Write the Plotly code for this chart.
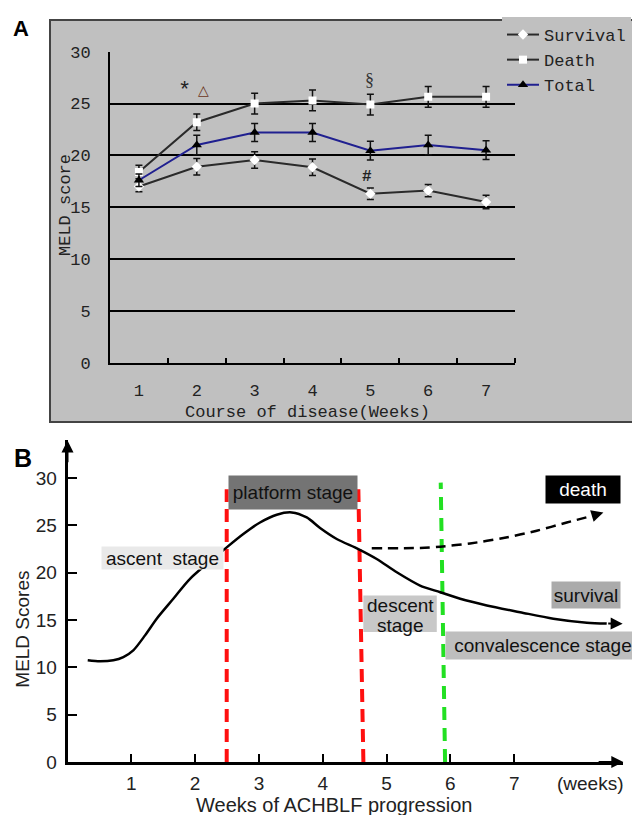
import plotly.graph_objects as go

# ---------------- Panel A data ----------------
weeks = [1, 2, 3, 4, 5, 6, 7]
week_labels = ["1", "2", "3", "4", "5", "6", "7"]
survival = [17.0, 18.9, 19.55, 18.85, 16.3, 16.6, 15.5]
survival_err = [0.5, 0.8, 0.8, 0.8, 0.55, 0.6, 0.65]
death = [18.4, 23.2, 25.0, 25.3, 24.9, 25.65, 25.65]
death_err = [0.65, 0.8, 1.0, 1.0, 1.0, 1.0, 1.0]
total = [17.6, 21.0, 22.2, 22.2, 20.45, 21.0, 20.5]
total_err = [0.6, 0.95, 0.87, 0.87, 0.9, 0.95, 0.9]
a_yticks = [0, 5, 10, 15, 20, 25, 30]
a_tick_bounds = [1.5, 2.5, 3.5, 4.5, 5.5, 6.5, 7.5]

# ---------------- Panel B data ----------------
curve_x = [0.317, 0.509, 0.718, 0.875, 1.031, 1.215, 1.398, 1.658, 1.92, 2.495,
           2.755, 3.017, 3.279, 3.514, 3.749, 3.958, 4.219, 4.558, 4.846, 5.16,
           5.525, 5.841, 6.154, 6.571, 7.092, 7.614, 8.138, 8.45]
curve_y = [10.74, 10.63, 10.74, 11.08, 11.79, 13.37, 15.13, 17.23, 19.34, 22.66,
           24.07, 25.29, 26.11, 26.35, 25.82, 24.71, 23.55, 22.49, 21.44, 20.03,
           18.63, 17.93, 17.23, 16.53, 15.82, 15.13, 14.71, 14.62]
death_curve_x = [4.768, 5.526, 5.84, 6.309, 6.831, 7.354, 7.824, 8.2]
death_curve_y = [22.56, 22.6, 22.74, 23.08, 23.65, 24.42, 25.29, 25.95]
red_left_x, red_left_y = [2.495, 2.495], [0, 28.8]
red_right_x, red_right_y = [4.637, 4.558], [0, 28.8]
green_x, green_y = [5.917, 5.849], [0, 29.5]
b_xticks = [1, 2, 3, 4, 5, 6, 7]
b_yticks = [0, 5, 10, 15, 20, 25, 30]

W, H = 632, 815
MONO = "Liberation Mono, Courier New, monospace"
SANS = "Liberation Sans, Arial, sans-serif"

fig = go.Figure()

err = dict(type="data", color="#111", thickness=1.5, width=3.5)
fig.add_trace(go.Scatter(x=weeks, y=survival, name="Survival", mode="lines+markers",
                         line=dict(color="#2a2a2a", width=2),
                         marker=dict(symbol="diamond", size=8, color="white"),
                         error_y=dict(array=survival_err, **err), xaxis="x", yaxis="y"))
fig.add_trace(go.Scatter(x=weeks, y=death, name="Death", mode="lines+markers",
                         line=dict(color="#2a2a2a", width=2),
                         marker=dict(symbol="square", size=8, color="white"),
                         error_y=dict(array=death_err, **err), xaxis="x", yaxis="y"))
fig.add_trace(go.Scatter(x=weeks, y=total, name="Total", mode="lines+markers",
                         line=dict(color="#202090", width=2),
                         marker=dict(symbol="triangle-up", size=9, color="black"),
                         error_y=dict(array=total_err, **err), xaxis="x", yaxis="y"))

# Panel B traces
fig.add_trace(go.Scatter(x=red_left_x, y=red_left_y, mode="lines", showlegend=False,
                         line=dict(color="#ff1010", width=4, dash="13px,7px"),
                         xaxis="x2", yaxis="y2"))
fig.add_trace(go.Scatter(x=red_right_x, y=red_right_y, mode="lines", showlegend=False,
                         line=dict(color="#ff1010", width=4, dash="13px,7px"),
                         xaxis="x2", yaxis="y2"))
fig.add_trace(go.Scatter(x=green_x, y=green_y, mode="lines", showlegend=False,
                         line=dict(color="#22e022", width=4, dash="13px,8px"),
                         xaxis="x2", yaxis="y2"))
fig.add_trace(go.Scatter(x=curve_x, y=curve_y, mode="lines", showlegend=False,
                         line=dict(color="black", width=2.5, shape="spline", smoothing=0.8),
                         xaxis="x2", yaxis="y2"))
fig.add_trace(go.Scatter(x=death_curve_x, y=death_curve_y, mode="lines", showlegend=False,
                         line=dict(color="black", width=2.5, dash="10px,6px",
                                   shape="spline", smoothing=0.8),
                         xaxis="x2", yaxis="y2"))

C = dict(xanchor="center", yanchor="middle", showarrow=False)
ann = []
# Panel A labels
ann.append(dict(text="<b>A</b>", xref="paper", yref="paper", x=21 / W, y=1 - 28 / H,
                font=dict(family=SANS, size=22, color="black"), **C))
ann.append(dict(text="*", xref="x", yref="y", x=1.78, y=26.2,
                font=dict(family=MONO, size=22, color="#222"), **C))
ann.append(dict(text="△", xref="x", yref="y", x=2.11, y=26.3,
                font=dict(family="DejaVu Sans", size=14, color="#6a3420"), **C))
ann.append(dict(text="§", xref="x", yref="y", x=4.99, y=27.3,
                font=dict(family="Liberation Serif", size=18, color="#333"), **C))
ann.append(dict(text="<b>#</b>", xref="x", yref="y", x=4.94, y=17.9,
                font=dict(family=MONO, size=16, color="#222"), **C))
ann.append(dict(text="Course of disease(Weeks)", xref="x", yref="paper", x=3.905,
                y=1 - 412 / H, font=dict(family=MONO, size=17, color="#222"), **C))
ann.append(dict(text="MELD score", xref="paper", yref="paper", x=65 / W, y=1 - 205 / H,
                textangle=-90, font=dict(family=MONO, size=17, color="#222"), **C))

# Panel B labels
ann.append(dict(text="<b>B</b>", xref="paper", yref="paper", x=22.5 / W, y=1 - 457.5 / H,
                font=dict(family=SANS, size=25, color="black"), **C))
ann.append(dict(text="MELD Scores", xref="paper", yref="paper", x=21.7 / W, y=1 - 629 / H,
                textangle=-90, font=dict(family=SANS, size=19, color="#222"), **C))
ann.append(dict(text="Weeks of ACHBLF progression", xref="x2", yref="paper", x=4.18,
                y=1 - 805 / H, font=dict(family=SANS, size=20, color="#222"), **C))
ann.append(dict(text="(weeks)", xref="x2", yref="paper", x=8.19, y=1 - 783 / H,
                font=dict(family=SANS, size=19, color="#222"), **C))


def box(text, x, y, w, h, bg, fc="#111", size=19):
    return dict(text=text, xref="x2", yref="y2", x=x, y=y, width=w, height=h,
                bgcolor=bg, borderpad=0, font=dict(family=SANS, size=size, color=fc), **C)


ann.append(box("platform stage", 3.539, 28.45, 128, 33, "#747474"))
ann.append(box("ascent\u00a0 stage", 1.486, 21.56, 121, 22, "#e9e9e9"))
ann.append(box("death", 8.08, 28.77, 74, 27, "#000000", fc="white"))
ann.append(box("survival", 8.124, 17.61, 68, 26, "#ababab"))
ann.append(box("convalescence stage", 7.453, 12.32, 194, 27, "#bebebe"))
ann.append(dict(text="descent", xref="x2", yref="y2", x=5.212, y=16.53,
                font=dict(family=SANS, size=19, color="#111"), **C))
ann.append(dict(text="stage", xref="x2", yref="y2", x=5.212, y=14.42,
                font=dict(family=SANS, size=19, color="#111"), **C))

# arrows
arrow = dict(xref="x2", yref="y2", axref="x2", ayref="y2", showarrow=True, text="",
             arrowhead=2, arrowsize=1.2, arrowwidth=2, arrowcolor="black")
ann.append(dict(x=8.70, y=14.6, ax=8.45, ay=14.62, **arrow))
ann.append(dict(x=8.398, y=26.35, ax=8.2, ay=25.95, **arrow))
ann.append(dict(x=8.71, y=0, ax=8.3, ay=0, **arrow))
ann.append(dict(x=0, y=33.95, ax=0, ay=31.5, **arrow))

shapes = [
    dict(type="rect", xref="paper", yref="paper", x0=50 / W, x1=1.05,
         y0=1 - 422 / H, y1=1 - 20 / H, fillcolor="#c0c0c0",
         line=dict(color="#444", width=2), layer="below"),
    dict(type="rect", xref="x2", yref="y2", x0=4.636, x1=5.787, y0=13.72, y1=17.58,
         fillcolor="#c8c8c8", line=dict(width=0), layer="below"),
]

fig.update_layout(
    width=W, height=H, margin=dict(l=0, r=0, t=0, b=0, autoexpand=False),
    paper_bgcolor="white", plot_bgcolor="rgba(0,0,0,0)",
    showlegend=True,
    legend=dict(x=502 / W, y=1 - 17 / H, xanchor="left", yanchor="top",
                bgcolor="#c0c0c0", borderwidth=0, itemwidth=32,
                font=dict(family=MONO, size=17, color="#222"), tracegroupgap=0),
    xaxis=dict(domain=[110 / W, 515 / W], range=[0.5, 7.5], anchor="y",
               tickvals=weeks, ticktext=week_labels, ticks="",
               minor=dict(tickvals=a_tick_bounds, ticks="inside", ticklen=5,
                          tickwidth=1.5, tickcolor="black"),
               showline=True, linecolor="black", linewidth=2, showgrid=False,
               zeroline=False, ticklabelstandoff=11, automargin=False,
               tickfont=dict(family=MONO, size=17, color="#222")),
    yaxis=dict(domain=[1 - 362.7 / H, 1 - 51.7 / H], range=[0, 30], anchor="x",
               tickvals=a_yticks, ticks="", showline=True, linecolor="black",
               linewidth=2, showgrid=True, gridcolor="black", gridwidth=1.5,
               zeroline=False, ticklabelstandoff=14, automargin=False,
               tickfont=dict(family=MONO, size=17, color="#222")),
    xaxis2=dict(domain=[67.5 / W, 623.3 / W], range=[0, 8.71], anchor="y2",
                tickvals=b_xticks, ticks="inside", ticklen=8, tickwidth=1.5,
                tickcolor="black", showline=True, linecolor="black", linewidth=2.5,
                showgrid=False, zeroline=False, ticklabelstandoff=2, automargin=False,
                tickfont=dict(family=SANS, size=19, color="#222")),
    yaxis2=dict(domain=[1 - 762 / H, 1 - 440 / H], range=[0, 34], anchor="x2",
                tickvals=b_yticks, ticks="inside", ticklen=10, tickwidth=1.5,
                tickcolor="black", showline=True, linecolor="black", linewidth=2.5,
                showgrid=False, zeroline=False, ticklabelstandoff=4, automargin=False,
                tickfont=dict(family=SANS, size=19, color="#222")),
    annotations=ann, shapes=shapes,
)

fig.write_html("out.html", config={"displayModeBar": False},
               post_script="document.body.style.margin='0';"
                           "document.body.style.overflow='hidden';")
